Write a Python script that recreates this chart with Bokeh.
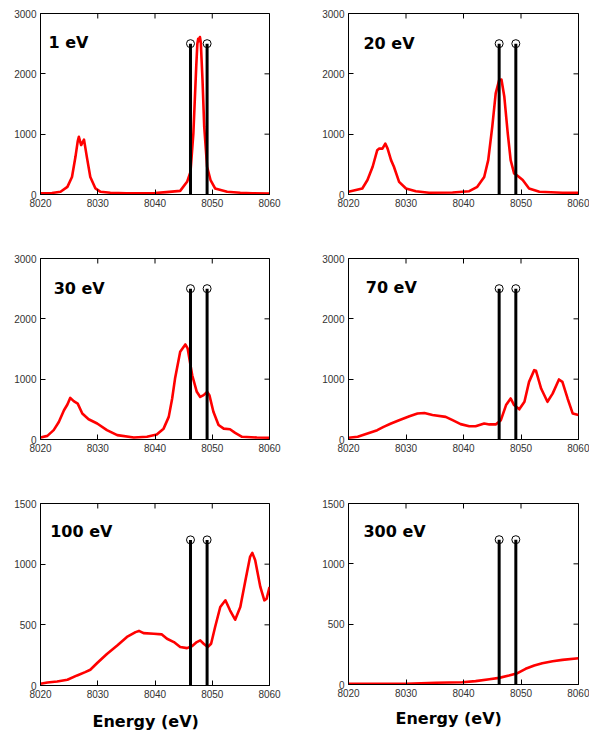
import math
from bokeh.plotting import figure
from bokeh.layouts import column, row
from bokeh.models import Range1d, FixedTicker, Label, Title
from bokeh.embed import file_html
from bokeh.resources import INLINE

# ---------------- data ----------------
energy_ticks = [8020, 8030, 8040, 8050, 8060]
counts_ticks_3000 = [0, 1000, 2000, 3000]
counts_ticks_1500 = [0, 500, 1000, 1500]
edge_energies = [8046.2, 8049.1]
panel_titles = ["1 eV", "20 eV", "30 eV", "70 eV", "100 eV", "300 eV"]
stick_heights = [2500, 2500, 2500, 2500, 1200, 1200]

e_1ev = [8020, 8022, 8023.5, 8024.7, 8025.5, 8026.1, 8026.5, 8026.7, 8027.1, 8027.6, 8028.1,
         8028.7, 8029.6, 8030.5, 8032.2, 8035, 8038, 8040, 8042, 8044.4, 8045.6, 8046.2,
         8046.7, 8047.2, 8047.4, 8047.55, 8047.7, 8047.85, 8048.0, 8048.3, 8048.6, 8049.1,
         8049.7, 8050.5, 8052.6, 8054.9, 8057, 8060]
c_1ev = [20, 25, 45, 127, 290, 620, 880, 955, 820, 910, 620,
         290, 100, 45, 28, 20, 20, 25, 40, 60, 210, 375,
         1010, 2115, 2500, 2580, 2540, 2610, 2520, 1895, 1120, 460,
         240, 100, 45, 28, 20, 15]

e_20ev = [8020, 8022.4, 8023.3, 8024.2, 8025.0, 8025.3, 8025.9, 8026.4, 8026.8, 8027.4, 8027.9,
          8028.8, 8030.0, 8031.7, 8034.0, 8038.1, 8041.0, 8042.4, 8043.6, 8044.3, 8045.0,
          8045.6, 8046.2, 8046.6, 8047.1, 8047.7, 8048.2, 8048.8, 8049.4, 8050.3, 8051.4,
          8053.2, 8057.2, 8060]
c_20ev = [45, 100, 240, 460, 735, 760, 760, 845, 760, 570, 460,
          210, 100, 55, 28, 33, 55, 127, 290, 570, 1120,
          1675, 1895, 1905, 1620, 1010, 570, 350, 310, 240, 100,
          45, 28, 28]

e_30ev = [8020, 8021.2, 8022.3, 8023.2, 8024.1, 8024.7, 8025.2, 8025.8, 8026.5, 8027.3, 8028.4,
          8029.9, 8031.6, 8033.4, 8036.3, 8038.6, 8040.3, 8041.5, 8042.4, 8043.0, 8043.5,
          8044.4, 8045.3, 8045.7, 8046.5, 8047.3, 8047.9, 8048.5, 8049.1, 8049.5, 8050.2,
          8051.1, 8052.0, 8053.1, 8054.0, 8055.2, 8057.8, 8060]
c_30ev = [33, 60, 155, 290, 485, 580, 690, 635, 595, 430, 335,
          265, 155, 72, 33, 45, 83, 180, 375, 680, 1010,
          1455, 1575, 1510, 1065, 790, 705, 735, 790, 735, 460,
          240, 180, 170, 110, 45, 33, 28]

e_70ev = [8020, 8021.6, 8023.3, 8025.0, 8026.1, 8027.4, 8028.8, 8030.6, 8032.0, 8033.2, 8034.6,
          8036.9, 8038.1, 8039.5, 8041.0, 8042.1, 8043.6, 8044.5, 8045.6, 8046.5, 8047.4,
          8048.2, 8048.8, 8049.7, 8050.6, 8051.4, 8052.3, 8052.6, 8053.5, 8054.6, 8055.5,
          8056.6, 8057.2, 8058.1, 8059.0, 8060]
c_70ev = [28, 45, 100, 155, 210, 265, 320, 385, 430, 440, 405,
          375, 320, 255, 220, 220, 265, 250, 250, 320, 570,
          680, 570, 500, 625, 955, 1150, 1140, 845, 625, 760,
          995, 955, 680, 430, 405]

e_100ev = [8020, 8021.2, 8022.9, 8024.7, 8026.4, 8027.8, 8028.7, 8029.9, 8031.6, 8033.4, 8035.1,
           8036.6, 8037.2, 8038.0, 8039.8, 8041.2, 8042.1, 8043.3, 8044.4, 8045.6, 8046.5,
           8047.3, 8047.9, 8048.5, 8049.2, 8049.8, 8050.5, 8051.4, 8052.3, 8053.1, 8054.0,
           8054.9, 8055.8, 8056.6, 8057.0, 8057.5, 8058.4, 8059.1, 8059.5, 8060]
c_100ev = [14, 25, 33, 47, 83, 110, 130, 185, 260, 330, 400,
           440, 450, 432, 427, 421, 385, 358, 317, 308, 325,
           358, 372, 344, 317, 344, 482, 647, 702, 620, 542,
           647, 867, 1060, 1093, 1032, 812, 702, 715, 812]

e_300ev = [8020, 8025, 8030, 8035.2, 8039.8, 8042.1, 8044.5, 8046.2, 8047.9, 8049.4, 8050.8,
           8052.3, 8053.7, 8055.5, 8057.2, 8060]
c_300ev = [5, 5, 5, 14, 19, 28, 44, 55, 74, 94, 130,
           157, 176, 193, 204, 218]

# --------------- styling ---------------
TICK_FONT = "Liberation Sans"
TITLE_FONT = "DejaVu Sans"


def style_axis(ax, ticks):
    ax.ticker = FixedTicker(ticks=ticks)
    ax.major_tick_in = 5
    ax.major_tick_out = 0
    ax.minor_tick_in = 0
    ax.minor_tick_out = 0
    ax.axis_line_color = "black"
    ax.axis_line_width = 1
    ax.major_tick_line_color = "black"
    ax.major_label_text_font = TICK_FONT
    ax.major_label_text_color = "#333333"
    ax.major_label_text_font_size = "10px"
    ax.major_label_standoff = 4


def make_panel(x, y, ymax, yticks, stick_top, title, title_xy, fw, fh, borders, xlabel_offset=None):
    bl, br, bt, bb = borders
    p = figure(frame_width=fw, frame_height=fh,
               min_border_left=bl, min_border_right=br,
               min_border_top=bt, min_border_bottom=bb,
               x_range=Range1d(8020, 8060), y_range=Range1d(0, ymax),
               output_backend="svg", toolbar_location=None)
    p.background_fill_color = "white"
    p.border_fill_color = "white"
    p.outline_line_color = "black"
    p.xgrid.visible = False
    p.ygrid.visible = False
    style_axis(p.xaxis[0], energy_ticks)
    style_axis(p.yaxis[0], yticks)

    # inward tick marks along the top and right frame edges (half of each dash is clipped)
    p.scatter(energy_ticks, [ymax] * len(energy_ticks), marker="dash", size=10,
              angle=math.pi / 2, line_color="black", line_width=1)
    p.scatter([8060] * len(yticks), yticks, marker="dash", size=10,
              line_color="black", line_width=1)

    p.line(x, y, line_color="#ff0000", line_width=2.6, line_join="round")
    p.segment(x0=edge_energies, y0=[0, 0], x1=edge_energies, y1=[stick_top, stick_top],
              line_color="black", line_width=3)
    p.scatter(edge_energies, [stick_top, stick_top], marker="circle", size=8,
              fill_color="white", fill_alpha=0.0, line_color="black", line_width=1)
    p.add_layout(Label(x=title_xy[0], y=title_xy[1], text=title,
                       text_font=TITLE_FONT, text_font_style="bold",
                       text_font_size="16px", text_color="black",
                       text_baseline="alphabetic", text_align="left"))
    if xlabel_offset is not None:
        t = Title(text="Energy (eV)", align="left", offset=xlabel_offset[0],
                  standoff=xlabel_offset[1], text_font=TITLE_FONT, text_font_style="bold",
                  text_font_size="16px", text_color="black")
        p.add_layout(t, "below")
    return p


p1 = make_panel(e_1ev, c_1ev, 3000, counts_ticks_3000, stick_heights[0], panel_titles[0],
                (8021.4, 2519), 229, 181, (40, 26, 13, 51))
p2 = make_panel(e_20ev, c_20ev, 3000, counts_ticks_3000, stick_heights[1], panel_titles[1],
                (8022.6, 2508), 230, 181, (53, 11, 13, 51))
p3 = make_panel(e_30ev, c_30ev, 3000, counts_ticks_3000, stick_heights[2], panel_titles[2],
                (8022.3, 2508), 229, 181, (40, 26, 13, 41))
p4 = make_panel(e_70ev, c_70ev, 3000, counts_ticks_3000, stick_heights[3], panel_titles[3],
                (8023.0, 2524), 230, 181, (53, 11, 13, 41))
p5 = make_panel(e_100ev, c_100ev, 1500, counts_ticks_1500, stick_heights[4], panel_titles[4],
                (8021.7, 1269), 229, 182, (40, 26, 23, 57), xlabel_offset=(52, 19))
p6 = make_panel(e_300ev, c_300ev, 1500, counts_ticks_1500, stick_heights[5], panel_titles[5],
                (8022.6, 1265), 230, 181, (53, 11, 16, 65), xlabel_offset=(47, 15))

layout = column(row(p1, p2), row(p3, p4), row(p5, p6))
open("out.html", "w").write(file_html(layout, INLINE))
